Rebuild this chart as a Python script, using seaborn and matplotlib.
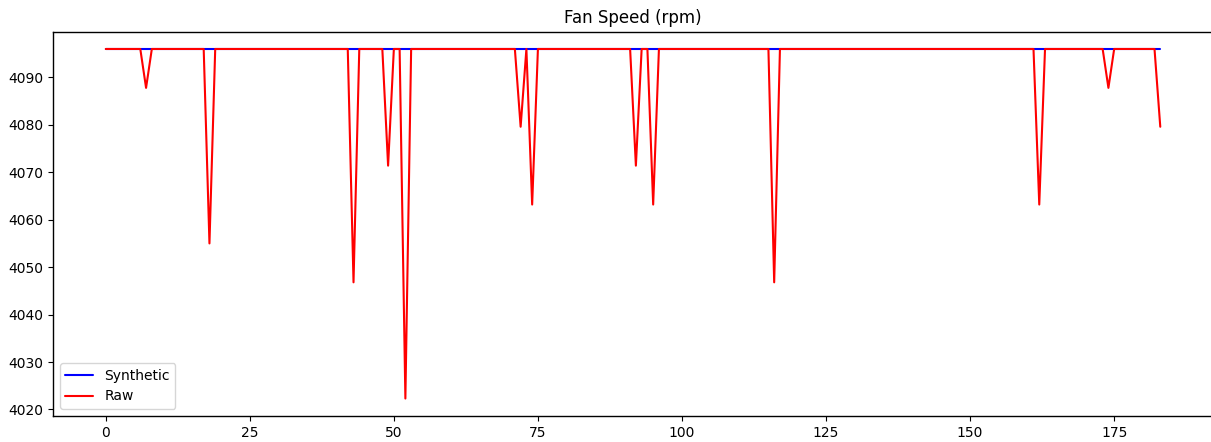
import matplotlib
matplotlib.use("Agg")
import matplotlib.pyplot as plt
import seaborn as sns
import numpy as np
import pandas as pd

sns.set_style("ticks", {"text.color": "black", "axes.labelcolor": "black",
                        "xtick.color": "black", "ytick.color": "black",
                        "axes.edgecolor": "black"})
plt.rcParams['font.family'] = ['DejaVu Sans']

n_points = 184
base_speed = 4096.0
dip_index = [7, 18, 43, 49, 52, 72, 74, 92, 95, 116, 162, 174, 183]
dip_value = [4087.8, 4055.0, 4046.8, 4071.4, 4022.3, 4079.6, 4063.2,
             4071.4, 4063.2, 4046.8, 4063.2, 4087.8, 4079.6]

synthetic = [base_speed] * n_points
raw = [base_speed] * n_points
for i, v in zip(dip_index, dip_value):
    raw[i] = v

df = pd.DataFrame({
    "t": list(range(n_points)) * 2,
    "value": synthetic + raw,
    "series": ["Synthetic"] * n_points + ["Raw"] * n_points,
})

fig = plt.figure(figsize=(12.11, 4.42), dpi=100)
W, H = 1211, 442
left, right, top, bottom = 53, 1213, 31.5, 416
ax = fig.add_axes([left / W, 1 - bottom / H, (right - left) / W, (bottom - top) / H])

sns.lineplot(data=df, x="t", y="value", hue="series",
             palette={"Synthetic": "blue", "Raw": "red"}, ax=ax, linewidth=1.5)

ax.set_title("Fan Speed (rpm)", fontsize=12, color="black")
ax.set_xlabel("")
ax.set_ylabel("")
ax.set_xticks([0, 25, 50, 75, 100, 125, 150, 175])
ax.set_yticks([4020, 4030, 4040, 4050, 4060, 4070, 4080, 4090])
ax.tick_params(labelsize=10, colors="black")
for s in ax.spines.values():
    s.set_visible(True)
    s.set_color("black")
    s.set_linewidth(1.0)
leg = ax.legend(loc="lower left", title=None, fontsize=10)
for t in leg.get_texts():
    t.set_color("black")

fig.savefig("out.png", dpi=100)
